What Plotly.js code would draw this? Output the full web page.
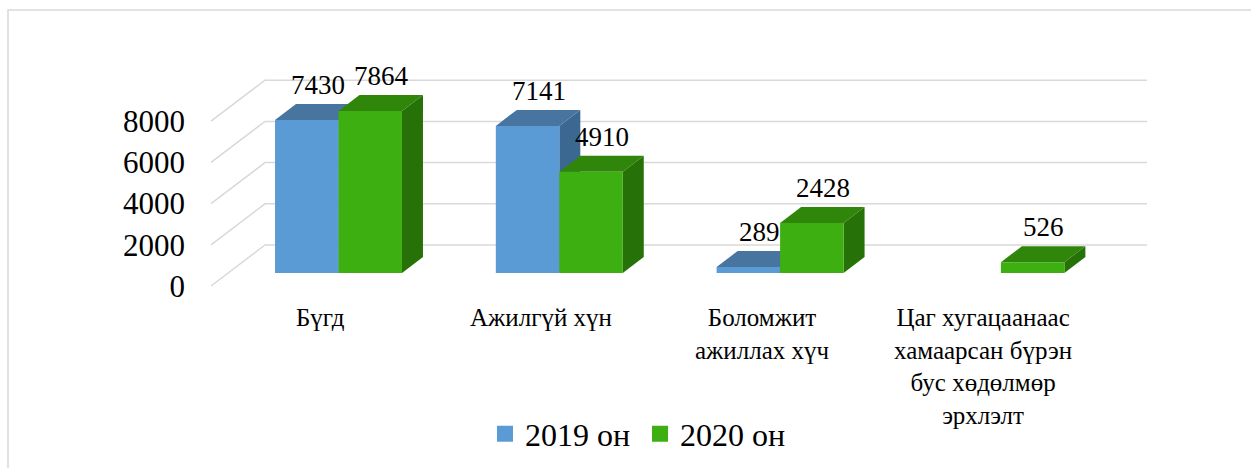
<!DOCTYPE html>
<html><head><meta charset="utf-8">
<script src="https://cdn.plot.ly/plotly-3.0.1.min.js"></script>
<style>body{margin:0;background:#fff}#chart{width:1251px;height:468px}</style>
</head><body><div id="chart"></div>
<script>
// ---- data ----
const categories = ["Бүгд", "Ажилгүй хүн", "Боломжит<br>ажиллах хүч", "Цаг хугацаанаас<br>хамаарсан бүрэн<br>бус хөдөлмөр<br>эрхлэлт"];
const series2019 = [7430, 7141, 289, null];
const series2020 = [7864, 4910, 2428, 526];
const seriesNames = ["2019 он", "2020 он"];
const yTicks = [0, 2000, 4000, 6000, 8000];

// ---- geometry / style ----
const W = 1251, H = 468;
const k = 0.0206;            // px per unit
const barBase = 273;         // px from top: value 0 at bar front face
const axisBase = 286;        // px from top: value 0 at front plane
const firstCenter = 338.5, pxPerCat = 220.8;
const wallX0 = 211, wallDX = 54, wallDY = 41, wallX1 = 1147;
const barDX = 21, barDY = 16;
const bargap = 0.425;
const halfW = (1 - bargap) / 2;
const bwPx = halfW * pxPerCat;
const FONT = "Liberation Serif";
const gridColor = "#D9D9D9";
const colors = [
  {front: "#5B9BD5", top: "#4775A0", side: "#3B6890"},
  {front: "#3DAF10", top: "#2F860A", side: "#267208"}
];
const seriesList = [series2019, series2020];

const xIdx = categories.map((c, i) => i);
const xr0 = -firstCenter / pxPerCat, xr1 = xr0 + W / pxPerCat;
const yRange = [-(H - barBase) / k, barBase / k];
const y2Range = [-(H - axisBase) / k, axisBase / k];

const traces = seriesList.map((s, si) => ({
  type: "bar", name: seriesNames[si], x: xIdx, y: s, showlegend: false,
  marker: {color: colors[si].front, line: {width: 0}},
  hoverinfo: "skip"
}));
// legend entries (square keys)
seriesList.forEach((s, si) => {
  traces.push({type: "scatter", mode: "markers", name: seriesNames[si], x: [null], y: [null],
    marker: {symbol: "square", size: 16, color: colors[si].front, line: {width: 0}},
    showlegend: true, hoverinfo: "skip"});
});

const shapes = [];
// wall gridlines
yTicks.forEach(v => {
  shapes.push({type: "path", xref: "paper", yref: "y2", xsizemode: "pixel", ysizemode: "pixel",
    xanchor: 0, yanchor: v,
    path: `M${wallX0},0 L${wallX0 + wallDX},${wallDY} L${wallX1},${wallDY}`,
    line: {color: gridColor, width: 1.5}, fillcolor: "rgba(0,0,0,0)", layer: "below"});
});
// 3D faces
seriesList.forEach((s, si) => {
  s.forEach((v, i) => {
    if (v === null || v === undefined) return;
    const left = i - halfW + si * halfW;
    const h = v * k;
    shapes.push({type: "path", xref: "x", yref: "y", xsizemode: "pixel", ysizemode: "pixel",
      xanchor: left, yanchor: v,
      path: `M${bwPx},0 L${bwPx + barDX},${barDY} L${bwPx + barDX},${barDY - h} L${bwPx},${-h} Z`,
      fillcolor: colors[si].side, line: {width: 0}, layer: "below"});
    shapes.push({type: "path", xref: "x", yref: "y", xsizemode: "pixel", ysizemode: "pixel",
      xanchor: left, yanchor: v,
      path: `M0,0 L${bwPx},0 L${bwPx + barDX},${barDY} L${barDX},${barDY} Z`,
      fillcolor: colors[si].top, line: {width: 0}, layer: "below"});
  });
});
// outer frame
shapes.push({type: "rect", xref: "paper", yref: "paper", x0: 8 / W, x1: 1.02, y0: -0.02, y1: (H - 10) / H,
  line: {color: gridColor, width: 1.5}, fillcolor: "rgba(0,0,0,0)", layer: "above"});

const annotations = [];
seriesList.forEach((s, si) => {
  s.forEach((v, i) => {
    if (v === null || v === undefined) return;
    annotations.push({x: i - halfW / 2 + si * halfW, y: v, xref: "x", yref: "y", text: String(v),
      showarrow: false, xshift: 11, yshift: 35, font: {family: FONT, size: 27, color: "#000"}});
  });
});
categories.forEach((c, i) => {
  annotations.push({x: i, y: (H - 302) / H, xref: "x", yref: "paper", text: c, showarrow: false,
    xshift: -18, yanchor: "top", align: "center", font: {family: FONT, size: 25, color: "#000"}});
});

const layout = {
  width: W, height: H,
  margin: {l: 0, r: 0, t: 0, b: 0},
  paper_bgcolor: "#fff", plot_bgcolor: "rgba(0,0,0,0)",
  barmode: "group", bargap: bargap, bargroupgap: 0,
  font: {family: FONT, color: "#000"},
  xaxis: {range: [xr0, xr1], visible: false, fixedrange: true},
  yaxis: {range: yRange, visible: false, fixedrange: true},
  yaxis2: {range: y2Range, overlaying: "y", anchor: "free", position: wallX0 / W, side: "left",
    tickvals: yTicks, ticktext: yTicks.map(String), showgrid: false, zeroline: false, showline: false,
    ticks: "", ticklabelstandoff: 26, tickfont: {family: FONT, size: 31, color: "#000"}, fixedrange: true},
  showlegend: true,
  legend: {orientation: "h", x: 485 / W, xanchor: "left", y: (H - 434) / H, yanchor: "middle",
    entrywidth: 110, entrywidthmode: "pixels",
    font: {family: FONT, size: 32, color: "#000"}, bgcolor: "rgba(0,0,0,0)", traceorder: "normal"},
  shapes: shapes, annotations: annotations
};

Plotly.newPlot("chart", traces, layout, {staticPlot: true, displayModeBar: false});
</script>
</body></html>
